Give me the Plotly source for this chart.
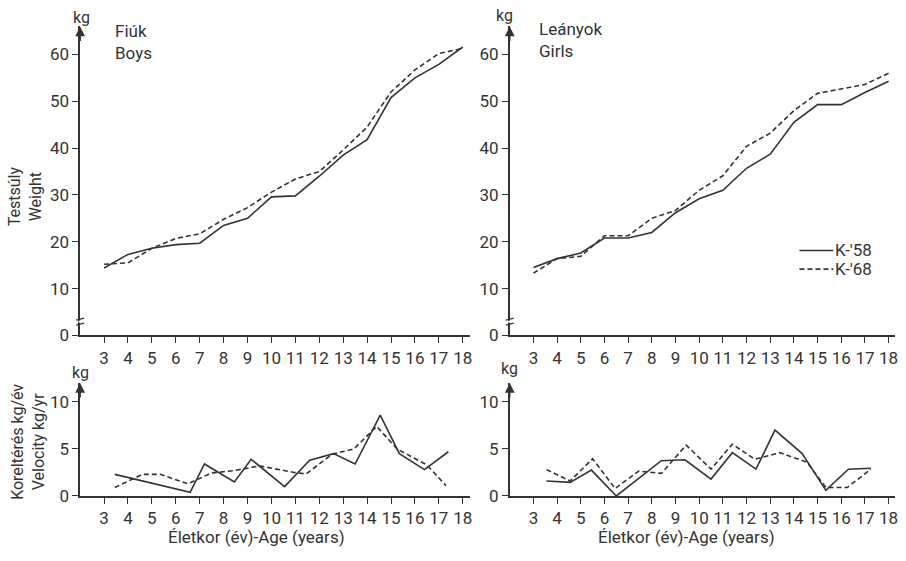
import plotly.graph_objects as go

W, H = 906, 561

# ---------------- data ----------------
ages = list(range(3, 19))
age_ticks = list(range(3, 19))

boys_w58 = [14.4, 17.3, 18.6, 19.4, 19.7, 23.5, 25.0, 29.6, 29.8, 34.0, 38.5, 41.8, 50.8, 55.0, 57.9, 61.6]
boys_w68 = [15.2, 15.5, 18.6, 20.7, 21.7, 24.8, 27.3, 30.6, 33.4, 35.0, 39.6, 44.5, 52.0, 56.7, 60.2, 61.3]

girls_w58 = [14.5, 16.4, 17.6, 20.8, 20.8, 22.0, 26.2, 29.2, 31.0, 35.7, 38.7, 45.5, 49.3, 49.3, 51.9, 54.3]
girls_w68 = [13.3, 16.4, 16.9, 21.3, 21.3, 25.0, 26.7, 31.0, 34.1, 40.4, 43.2, 48.0, 51.7, 52.7, 53.6, 56.0]

bv58_age = [3.45, 6.6, 7.2, 8.45, 9.15, 10.55, 11.6, 12.6, 13.5, 14.55, 15.35, 16.4, 17.4]
bv58 = [2.3, 0.4, 3.4, 1.5, 3.9, 1.0, 3.8, 4.5, 3.4, 8.6, 4.5, 2.8, 4.7]
bv68_age = [3.45, 4.6, 5.35, 6.5, 7.5, 8.45, 9.5, 10.95, 11.45, 12.55, 13.45, 14.4, 15.25, 16.5, 17.3]
bv68 = [0.9, 2.3, 2.3, 1.3, 2.45, 2.7, 3.2, 2.5, 2.35, 4.45, 5.0, 7.4, 5.0, 3.3, 1.1]

gv58_age = [3.55, 4.55, 5.45, 6.5, 8.4, 9.4, 10.5, 11.4, 12.4, 13.2, 14.35, 15.35, 16.3, 17.25]
gv58 = [1.6, 1.45, 2.75, 0.0, 3.75, 3.85, 1.8, 4.6, 2.85, 7.0, 4.5, 0.6, 2.85, 2.95]
gv68_age = [3.55, 4.55, 5.5, 6.45, 7.45, 8.4, 9.45, 10.5, 11.4, 12.35, 13.4, 14.55, 15.35, 16.25, 17.25]
gv68 = [2.8, 1.6, 3.95, 0.8, 2.65, 2.4, 5.4, 2.85, 5.5, 3.9, 4.6, 3.6, 0.9, 0.9, 2.85]

series_names = ["K-'58", "K-'68"]
weight_ticks = [0, 10, 20, 30, 40, 50, 60]
vel_ticks = [0, 5, 10]

# ---------------- styling ----------------
INK = "#333333"
FONT = "Roboto, DejaVu Sans, sans-serif"
LW = 1.6
DASH = "5px,3px"


def fx(px):
    return px / W


def fy(py):
    return 1 - py / H


fig = go.Figure()

panels = [
    ("x", "y", ages, boys_w58, ages, boys_w68),
    ("x2", "y2", ages, girls_w58, ages, girls_w68),
    ("x3", "y3", bv58_age, bv58, bv68_age, bv68),
    ("x4", "y4", gv58_age, gv58, gv68_age, gv68),
]
for xa, ya, xs1, ys1, xs2, ys2 in panels:
    fig.add_trace(go.Scatter(x=xs1, y=ys1, xaxis=xa, yaxis=ya, mode="lines",
                             name=series_names[0], showlegend=False,
                             line=dict(color=INK, width=LW)))
    fig.add_trace(go.Scatter(x=xs2, y=ys2, xaxis=xa, yaxis=ya, mode="lines",
                             name=series_names[1], showlegend=False,
                             line=dict(color=INK, width=LW, dash=DASH)))

left_x = [fx(80.5), fx(472)]
right_x = [fx(512), fx(898.5)]
top_y = [fy(341.5), fy(26.9)]
bot_y = [fy(505), fy(390)]

xcommon = dict(range=[2, 18.3], tickvals=age_ticks, showline=True, linecolor=INK,
               linewidth=1.5, ticks="outside", ticklen=6, tickcolor=INK, tickwidth=1.3,
               showgrid=False, zeroline=False,
               tickfont=dict(family=FONT, size=17, color=INK))
ycommon = dict(showline=True, linecolor=INK, linewidth=1.5, ticks="outside", ticklen=6,
               tickcolor=INK, tickwidth=1.3, showgrid=False, zeroline=False,
               tickfont=dict(family=FONT, size=17, color=INK))

fig.update_layout(
    width=W, height=H, margin=dict(l=0, r=0, t=0, b=0),
    paper_bgcolor="white", plot_bgcolor="white", showlegend=False,
    xaxis=dict(domain=left_x, anchor="y", **xcommon),
    yaxis=dict(domain=top_y, anchor="x", range=[0, 66], tickvals=weight_ticks, **ycommon),
    xaxis2=dict(domain=right_x, anchor="y2", **{**xcommon, "range": [2, 18.25]}),
    yaxis2=dict(domain=top_y, anchor="x2", range=[0, 66], tickvals=weight_ticks, **ycommon),
    xaxis3=dict(domain=left_x, anchor="y3", **xcommon),
    yaxis3=dict(domain=bot_y, anchor="x3", range=[0, 12], tickvals=vel_ticks, **ycommon),
    xaxis4=dict(domain=right_x, anchor="y4", **{**xcommon, "range": [2, 18.25]}),
    yaxis4=dict(domain=bot_y, anchor="x4", range=[0, 12], tickvals=vel_ticks, **ycommon),
)

ann = []
# axis arrows
for xa, ya, top in [("x", "y", 66), ("x2", "y2", 66), ("x3", "y3", 12), ("x4", "y4", 12)]:
    ann.append(dict(x=2, y=top, xref=xa, yref=ya, ax=0, ay=16, axref="pixel", ayref="pixel",
                    showarrow=True, arrowhead=2, arrowsize=1.3, arrowwidth=1.5,
                    arrowcolor=INK, text=""))

def txt(text, px, py, size=16, xanchor="center", yanchor="middle", angle=0, align="center"):
    ann.append(dict(text=text, x=fx(px), y=fy(py), xref="paper", yref="paper",
                    showarrow=False, xanchor=xanchor, yanchor=yanchor, textangle=angle,
                    align=align, font=dict(family=FONT, size=size, color=INK)))

txt("kg", 82, 18, 16)
txt("kg", 507, 16, 16)
txt("kg", 81, 379, 16)
txt("kg", 512, 375, 16)
txt("Fiúk<br>Boys", 114, 43, 17, xanchor="left", align="left")
txt("Leányok<br>Girls", 539, 41, 17, xanchor="left", align="left")
txt("Testsúly<br>Weight", 26, 200, 16, angle=-90)
txt("Koreltérés kg/év<br>Velocity kg/yr", 28, 450, 16, angle=-90)
txt("Életkor (év)-Age (years)", 258, 547, 17)
txt("Életkor (év)-Age (years)", 690, 547, 17)
txt(series_names[0], 837, 255, 17, xanchor="left")
txt(series_names[1], 837, 274, 17, xanchor="left")

shapes = [
    dict(type="line", xref="paper", yref="paper", x0=fx(803), x1=fx(837), y0=fy(255), y1=fy(255),
         line=dict(color=INK, width=LW)),
    dict(type="line", xref="paper", yref="paper", x0=fx(803), x1=fx(837), y0=fy(274), y1=fy(274),
         line=dict(color=INK, width=LW, dash=DASH)),
]
# axis break marks on weight axes
for axpx in [80.5, 512]:
    for py in [325, 330]:
        shapes.append(dict(type="line", xref="paper", yref="paper",
                           x0=fx(axpx - 4), x1=fx(axpx + 4), y0=fy(py + 1), y1=fy(py - 1),
                           line=dict(color=INK, width=1.3)))
    shapes.append(dict(type="line", xref="paper", yref="paper",
                       x0=fx(axpx), x1=fx(axpx), y0=fy(326.5), y1=fy(328.5),
                       line=dict(color="white", width=3)))

fig.update_layout(annotations=ann, shapes=shapes)
fig.write_html("out.html")
